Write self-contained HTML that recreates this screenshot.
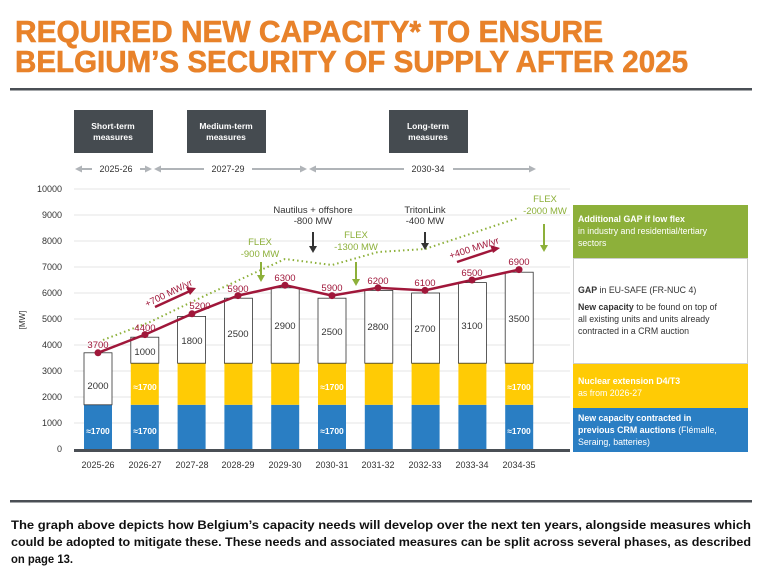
<!DOCTYPE html>
<html><head><meta charset="utf-8"><style>
html,body{margin:0;padding:0;background:#fff;}
svg{display:block;font-family:"Liberation Sans",sans-serif;}
</style></head><body>
<svg width="782" height="582" viewBox="0 0 782 582" xmlns="http://www.w3.org/2000/svg">
<rect width="782" height="582" fill="#fff"/>
<g fill="#E8822A" font-weight="bold" font-size="31" stroke="#E8822A" stroke-width="0.6">
<text x="15" y="42" textLength="588" lengthAdjust="spacingAndGlyphs">REQUIRED NEW CAPACITY* TO ENSURE</text>
<text x="15" y="72" textLength="673" lengthAdjust="spacingAndGlyphs">BELGIUM’S SECURITY OF SUPPLY AFTER 2025</text>
</g>
<rect x="10" y="88" width="742" height="2.5" fill="#4a4f55"/>
<g fill="#454b50">
<rect x="74" y="110" width="79" height="43"/>
<rect x="187" y="110" width="79" height="43"/>
<rect x="389" y="110" width="79" height="43"/>
</g>
<g fill="#fff" font-size="8.5" font-weight="bold" text-anchor="middle">
<text x="113" y="129">Short-term</text><text x="113" y="140">measures</text>
<text x="226" y="129">Medium-term</text><text x="226" y="140">measures</text>
<text x="428" y="129">Long-term</text><text x="428" y="140">measures</text>
</g>
<g stroke="#b0b4b8" stroke-width="2" fill="none">
<line x1="78" y1="169" x2="92" y2="169"/><line x1="140" y1="169" x2="148" y2="169"/>
<line x1="158" y1="169" x2="204" y2="169"/><line x1="252" y1="169" x2="303" y2="169"/>
<line x1="312" y1="169" x2="404" y2="169"/><line x1="453" y1="169" x2="532" y2="169"/>
</g>
<g fill="#b0b4b8">
<polygon points="75,169 82,165.5 82,172.5"/><polygon points="152,169 145,165.5 145,172.5"/>
<polygon points="154,169 161,165.5 161,172.5"/><polygon points="307,169 300,165.5 300,172.5"/>
<polygon points="309,169 316,165.5 316,172.5"/><polygon points="536,169 529,165.5 529,172.5"/>
</g>
<g fill="#333" font-size="9" text-anchor="middle">
<text x="116" y="172">2025-26</text><text x="228" y="172">2027-29</text><text x="428" y="172">2030-34</text>
</g>
<g stroke="#dcdcdc" stroke-width="0.8">
<line x1="74" y1="189" x2="570" y2="189"/><line x1="74" y1="215" x2="570" y2="215"/>
<line x1="74" y1="241" x2="570" y2="241"/><line x1="74" y1="267" x2="570" y2="267"/>
<line x1="74" y1="293" x2="570" y2="293"/><line x1="74" y1="319" x2="570" y2="319"/>
<line x1="74" y1="345" x2="570" y2="345"/><line x1="74" y1="371" x2="570" y2="371"/>
<line x1="74" y1="397" x2="570" y2="397"/><line x1="74" y1="423" x2="570" y2="423"/>
</g>
<g fill="#333" font-size="9" text-anchor="end">
<text x="62" y="192">10000</text><text x="62" y="218">9000</text><text x="62" y="244">8000</text>
<text x="62" y="270">7000</text><text x="62" y="296">6000</text><text x="62" y="322">5000</text>
<text x="62" y="348">4000</text><text x="62" y="374">3000</text><text x="62" y="400">2000</text>
<text x="62" y="426">1000</text><text x="62" y="452">0</text>
</g>
<text x="25" y="320" font-size="8" fill="#333" transform="rotate(-90 25 320)" text-anchor="middle">[MW]</text>
<rect x="84" y="404.8" width="28" height="44.2" fill="#2A7EC3"/>
<rect x="84" y="352.8" width="28" height="52" fill="#fff" stroke="#333" stroke-width="0.8"/>
<g fill="#2A7EC3">
<rect x="130.8" y="404.8" width="28" height="44.2"/><rect x="177.6" y="404.8" width="28" height="44.2"/>
<rect x="224.4" y="404.8" width="28" height="44.2"/><rect x="271.2" y="404.8" width="28" height="44.2"/>
<rect x="318" y="404.8" width="28" height="44.2"/><rect x="364.8" y="404.8" width="28" height="44.2"/>
<rect x="411.6" y="404.8" width="28" height="44.2"/><rect x="458.4" y="404.8" width="28" height="44.2"/>
<rect x="505.2" y="404.8" width="28" height="44.2"/>
</g>
<g fill="#FFCB05">
<rect x="130.8" y="363.2" width="28" height="41.6"/><rect x="177.6" y="363.2" width="28" height="41.6"/>
<rect x="224.4" y="363.2" width="28" height="41.6"/><rect x="271.2" y="363.2" width="28" height="41.6"/>
<rect x="318" y="363.2" width="28" height="41.6"/><rect x="364.8" y="363.2" width="28" height="41.6"/>
<rect x="411.6" y="363.2" width="28" height="41.6"/><rect x="458.4" y="363.2" width="28" height="41.6"/>
<rect x="505.2" y="363.2" width="28" height="41.6"/>
</g>
<g fill="#fff" stroke="#333" stroke-width="0.8">
<rect x="130.8" y="337.2" width="28" height="26"/><rect x="177.6" y="316.4" width="28" height="46.8"/>
<rect x="224.4" y="298.2" width="28" height="65"/><rect x="271.2" y="287.8" width="28" height="75.4"/>
<rect x="318" y="298.2" width="28" height="65"/><rect x="364.8" y="290.4" width="28" height="72.8"/>
<rect x="411.6" y="293" width="28" height="70.2"/><rect x="458.4" y="282.6" width="28" height="80.6"/>
<rect x="505.2" y="272.2" width="28" height="91"/>
</g>
<g fill="#333" font-size="9.5" text-anchor="middle">
<text x="98" y="389">2000</text><text x="145" y="355">1000</text><text x="192" y="344">1800</text>
<text x="238" y="337">2500</text><text x="285" y="329">2900</text><text x="332" y="335">2500</text>
<text x="378" y="330">2800</text><text x="425" y="332">2700</text><text x="472" y="329">3100</text>
<text x="519" y="322">3500</text>
</g>
<g fill="#fff" font-size="8.5" font-weight="bold" text-anchor="middle">
<text x="98" y="434">≈1700</text><text x="145" y="434">≈1700</text><text x="332" y="434">≈1700</text><text x="519" y="434">≈1700</text>
<text x="145" y="390">≈1700</text><text x="332" y="390">≈1700</text><text x="519" y="390">≈1700</text>
</g>
<rect x="74" y="449" width="496" height="3" fill="#4a4f55"/>
<g fill="#333" font-size="9" text-anchor="middle">
<text x="98" y="468">2025-26</text><text x="145" y="468">2026-27</text><text x="192" y="468">2027-28</text>
<text x="238" y="468">2028-29</text><text x="285" y="468">2029-30</text><text x="332" y="468">2030-31</text>
<text x="378" y="468">2031-32</text><text x="425" y="468">2032-33</text><text x="472" y="468">2033-34</text>
<text x="519" y="468">2034-35</text>
</g>
<polyline points="103,340 150,322 200,298 250,275 285,259 332,265 378,252 425,249 518,218" fill="none" stroke="#8DB03A" stroke-width="2" stroke-dasharray="1.5 3"/>
<polyline points="98,352.8 145,334.6 192,313.8 238,295.6 285,285.2 332,295.6 378,287.8 425,290.4 472,280 519,269.6" fill="none" stroke="#A0173A" stroke-width="2.5"/>
<g fill="#A0173A">
<circle cx="98" cy="352.8" r="3.5"/><circle cx="145" cy="334.6" r="3.5"/><circle cx="192" cy="313.8" r="3.5"/>
<circle cx="238" cy="295.6" r="3.5"/><circle cx="285" cy="285.2" r="3.5"/><circle cx="332" cy="295.6" r="3.5"/>
<circle cx="378" cy="287.8" r="3.5"/><circle cx="425" cy="290.4" r="3.5"/><circle cx="472" cy="280" r="3.5"/>
<circle cx="519" cy="269.6" r="3.5"/>
</g>
<g fill="#A0173A" font-size="9.5" text-anchor="middle">
<text x="98" y="348">3700</text><text x="145" y="331">4400</text><text x="200" y="309">5200</text>
<text x="238" y="292">5900</text><text x="285" y="281">6300</text><text x="332" y="291">5900</text>
<text x="378" y="284">6200</text><text x="425" y="286">6100</text><text x="472" y="276">6500</text>
<text x="519" y="265">6900</text>
<text x="170" y="296" transform="rotate(-26 170 296)">+700 MW/yr</text>
<text x="475" y="251" transform="rotate(-18 475 251)">+400 MW/yr</text>
</g>
<g stroke="#A0173A" stroke-width="2.5"><line x1="155" y1="307" x2="190" y2="291"/><line x1="457" y1="262" x2="493" y2="250"/></g>
<g fill="#A0173A"><polygon points="196,288 186,287 190,295"/><polygon points="500,248 490,245 493,253"/></g>
<g fill="#8DB03A" font-size="9.5" text-anchor="middle">
<text x="260" y="245">FLEX</text><text x="260" y="257">-900 MW</text>
<text x="356" y="238">FLEX</text><text x="356" y="250">-1300 MW</text>
<text x="545" y="202">FLEX</text><text x="545" y="214">-2000 MW</text>
</g>
<g stroke="#8DB03A" stroke-width="2"><line x1="261" y1="262" x2="261" y2="276"/><line x1="356" y1="262" x2="356" y2="280"/><line x1="544" y1="224" x2="544" y2="246"/></g>
<g fill="#8DB03A"><polygon points="257,275 265,275 261,282"/><polygon points="352,279 360,279 356,286"/><polygon points="540,245 548,245 544,252"/></g>
<g fill="#333" font-size="9.5" text-anchor="middle">
<text x="313" y="213">Nautilus + offshore</text><text x="313" y="224">-800 MW</text>
<text x="425" y="213">TritonLink</text><text x="425" y="224">-400 MW</text>
</g>
<g stroke="#333" stroke-width="2"><line x1="313" y1="232" x2="313" y2="247"/><line x1="425" y1="232" x2="425" y2="244"/></g>
<g fill="#333"><polygon points="309,246 317,246 313,253"/><polygon points="421,243 429,243 425,250"/></g>
<rect x="573" y="205" width="175" height="53" fill="#8DB03A"/>
<rect x="573.5" y="258.5" width="174" height="105" fill="#fff" stroke="#ccc"/>
<rect x="573" y="364" width="175" height="44" fill="#FFCB05"/>
<rect x="573" y="408" width="175" height="44" fill="#2A7EC3"/>
<g font-size="8.8" fill="#fff">
<text x="578" y="222"><tspan font-weight="bold">Additional GAP if low flex</tspan></text>
<text x="578" y="234">in industry and residential/tertiary</text>
<text x="578" y="246">sectors</text>
<text x="578" y="384" font-weight="bold">Nuclear extension D4/T3</text>
<text x="578" y="396">as from 2026-27</text>
<text x="578" y="421" font-weight="bold">New capacity contracted in</text>
<text x="578" y="433"><tspan font-weight="bold">previous CRM auctions</tspan> (Flémalle,</text>
<text x="578" y="445">Seraing, batteries)</text>
</g>
<g font-size="8.8" fill="#333">
<text x="578" y="293"><tspan font-weight="bold">GAP</tspan> in EU-SAFE (FR-NUC 4)</text>
<text x="578" y="310"><tspan font-weight="bold">New capacity</tspan> to be found on top of</text>
<text x="578" y="322">all existing units and units already</text>
<text x="578" y="334">contracted in a CRM auction</text>
</g>
<rect x="10" y="500" width="742" height="2.5" fill="#4a4f55"/>
<g font-size="11.5" font-weight="bold" fill="#111">
<text x="11" y="529" textLength="740" lengthAdjust="spacingAndGlyphs">The graph above depicts how Belgium’s capacity needs will develop over the next ten years, alongside measures which</text>
<text x="11" y="546" textLength="740" lengthAdjust="spacingAndGlyphs">could be adopted to mitigate these. These needs and associated measures can be split across several phases, as described</text>
<text x="11" y="563" textLength="62" lengthAdjust="spacingAndGlyphs">on page 13.</text>
</g>
</svg>
</body></html>
